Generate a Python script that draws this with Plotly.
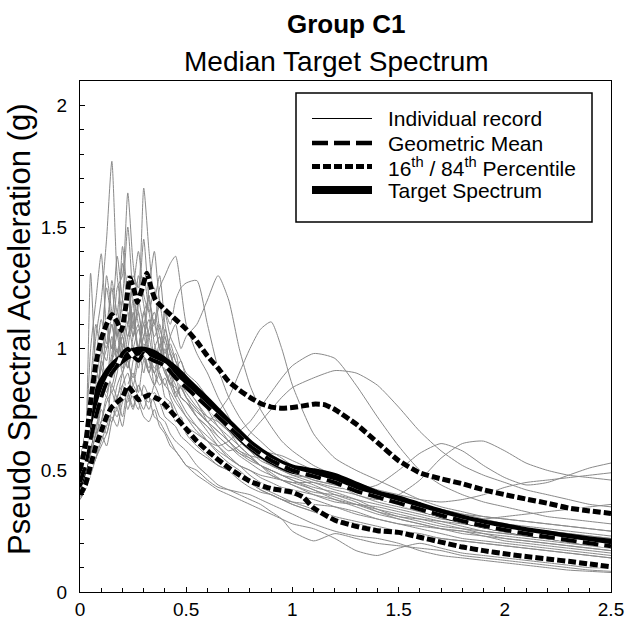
import plotly.graph_objects as go

# ---------------- data ----------------
periods = [0, .025, .05, .075, .1, .125, .15, .175, .2, .225, .25, .275, .3, .325, .35, .375, .4, .425, .45, .475, .5,
           .55, .6, .65, .7, .75, .8, .85, .9, .95, 1.0,
           1.1, 1.2, 1.3, 1.4, 1.5, 1.6, 1.7, 1.8, 1.9, 2.0, 2.1, 2.2, 2.3, 2.4, 2.5]

rec01 = [0.45, 0.55, 0.80, 1.05, 1.20, 1.45, 1.77, 1.30, 1.15, 1.25, 1.05, 1.10, 0.95, 1.00, 0.85, 0.90, 0.80, 0.78, 0.70, 0.72, 0.65,
         0.60, 0.56, 0.52, 0.50, 0.47, 0.45, 0.42, 0.40, 0.38, 0.36,
         0.33, 0.30, 0.28, 0.26, 0.24, 0.22, 0.20, 0.19, 0.17, 0.16, 0.15, 0.14, 0.13, 0.12, 0.11]
rec02 = [0.42, 0.50, 0.65, 0.90, 0.85, 1.10, 1.00, 1.25, 1.30, 1.64, 1.35, 1.20, 1.30, 1.15, 1.05, 1.10, 0.95, 0.90, 0.85, 0.80, 0.78,
         0.74, 0.70, 0.66, 0.62, 0.58, 0.55, 0.52, 0.48, 0.46, 0.45,
         0.42, 0.38, 0.35, 0.32, 0.30, 0.28, 0.26, 0.24, 0.23, 0.21, 0.20, 0.19, 0.18, 0.17, 0.16]
rec03 = [0.48, 0.58, 0.70, 0.85, 1.00, 0.95, 1.15, 1.05, 1.20, 1.10, 1.30, 1.25, 1.66, 1.40, 1.20, 1.30, 1.10, 1.00, 0.95, 0.90, 0.85,
         0.78, 0.72, 0.68, 0.62, 0.57, 0.55, 0.52, 0.50, 0.48, 0.47,
         0.44, 0.40, 0.37, 0.33, 0.30, 0.28, 0.26, 0.25, 0.24, 0.23, 0.22, 0.21, 0.20, 0.19, 0.18]
rec04 = [0.50, 0.62, 1.00, 1.20, 1.39, 1.10, 1.25, 1.05, 1.20, 1.50, 1.20, 1.00, 1.10, 0.95, 0.90, 0.85, 0.88, 0.80, 0.75, 0.70, 0.66,
         0.62, 0.58, 0.55, 0.50, 0.46, 0.43, 0.41, 0.40, 0.38, 0.36,
         0.33, 0.30, 0.28, 0.26, 0.25, 0.24, 0.22, 0.21, 0.20, 0.19, 0.18, 0.17, 0.16, 0.15, 0.14]
rec05 = [0.47, 0.60, 1.31, 0.95, 1.05, 1.00, 1.10, 0.95, 1.00, 1.15, 1.05, 1.20, 1.10, 1.25, 1.40, 1.20, 1.15, 1.05, 1.00, 0.95, 0.90,
         0.86, 0.80, 0.74, 0.68, 0.62, 0.58, 0.55, 0.52, 0.50, 0.48,
         0.45, 0.42, 0.40, 0.37, 0.35, 0.33, 0.31, 0.30, 0.29, 0.28, 0.27, 0.26, 0.25, 0.24, 0.23]
rec06 = [0.44, 0.50, 0.60, 0.70, 0.80, 0.85, 0.95, 1.00, 0.90, 1.05, 1.10, 1.00, 1.15, 1.20, 1.10, 1.25, 1.30, 1.35, 1.38, 1.25, 1.10,
         0.98, 0.90, 0.80, 0.72, 0.64, 0.58, 0.54, 0.52, 0.50, 0.49,
         0.46, 0.44, 0.42, 0.40, 0.37, 0.34, 0.31, 0.29, 0.27, 0.25, 0.23, 0.22, 0.21, 0.20, 0.19]
rec07 = [0.40, 0.45, 0.55, 0.65, 0.70, 0.80, 0.75, 0.85, 0.90, 0.80, 0.95, 1.00, 0.90, 1.05, 1.10, 1.00, 1.15, 1.10, 1.20, 1.25, 1.27,
         1.28, 1.10, 0.92, 0.80, 0.72, 0.66, 0.62, 0.58, 0.55, 0.52,
         0.48, 0.45, 0.43, 0.41, 0.38, 0.36, 0.34, 0.32, 0.31, 0.30, 0.29, 0.28, 0.27, 0.26, 0.25]
rec08 = [0.43, 0.48, 0.58, 0.62, 0.75, 0.70, 0.85, 0.80, 0.90, 0.95, 0.85, 0.95, 1.00, 0.90, 1.00, 1.05, 0.95, 1.05, 1.10, 1.00, 1.05,
         1.10, 1.20, 1.30, 1.20, 1.00, 0.85, 0.75, 0.68, 0.62, 0.58,
         0.52, 0.48, 0.45, 0.42, 0.40, 0.38, 0.37, 0.38, 0.40, 0.43, 0.45, 0.46, 0.47, 0.48, 0.49]
rec09 = [0.41, 0.46, 0.55, 0.60, 0.70, 0.65, 0.75, 0.80, 0.72, 0.85, 0.90, 0.82, 0.95, 0.90, 0.85, 0.95, 0.90, 0.85, 0.80, 0.85, 0.80,
         0.75, 0.70, 0.74, 0.80, 0.90, 1.00, 1.08, 1.11, 1.00, 0.85,
         0.65, 0.55, 0.50, 0.46, 0.42, 0.38, 0.35, 0.33, 0.31, 0.30, 0.29, 0.28, 0.27, 0.26, 0.25]
rec10 = [0.40, 0.44, 0.50, 0.55, 0.65, 0.60, 0.70, 0.75, 0.68, 0.80, 0.75, 0.85, 0.80, 0.78, 0.85, 0.80, 0.75, 0.78, 0.72, 0.70, 0.68,
         0.65, 0.62, 0.60, 0.62, 0.66, 0.70, 0.76, 0.82, 0.88, 0.93,
         0.98, 0.96, 0.85, 0.72, 0.60, 0.50, 0.44, 0.40, 0.37, 0.35, 0.33, 0.31, 0.30, 0.29, 0.28]
rec11 = [0.45, 0.52, 0.62, 0.75, 0.85, 0.80, 0.95, 1.05, 0.95, 1.10, 1.00, 0.92, 1.05, 0.95, 0.90, 1.00, 0.92, 0.85, 0.88, 0.80, 0.78,
         0.72, 0.68, 0.62, 0.58, 0.60, 0.65, 0.70, 0.75, 0.80, 0.84,
         0.88, 0.91, 0.90, 0.85, 0.76, 0.66, 0.58, 0.52, 0.48, 0.45, 0.42, 0.40, 0.38, 0.36, 0.35]
rec12 = [0.42, 0.48, 0.60, 0.68, 0.78, 0.90, 0.85, 0.95, 1.05, 0.95, 1.00, 1.08, 0.98, 0.92, 1.00, 0.90, 0.85, 0.82, 0.78, 0.75, 0.72,
         0.68, 0.64, 0.60, 0.56, 0.52, 0.50, 0.48, 0.47, 0.46, 0.45,
         0.45, 0.43, 0.42, 0.44, 0.50, 0.57, 0.61, 0.58, 0.52, 0.47, 0.44, 0.45, 0.48, 0.51, 0.53]
rec13 = [0.44, 0.52, 0.66, 0.78, 0.92, 1.00, 1.10, 0.98, 1.12, 1.05, 1.20, 1.10, 1.00, 1.08, 1.15, 1.05, 0.98, 1.02, 0.95, 0.90, 0.88,
         0.82, 0.76, 0.70, 0.66, 0.62, 0.60, 0.58, 0.57, 0.56, 0.54,
         0.50, 0.45, 0.40, 0.38, 0.40, 0.46, 0.55, 0.61, 0.62, 0.58, 0.53, 0.50, 0.48, 0.47, 0.46]
rec14 = [0.38, 0.42, 0.50, 0.55, 0.62, 0.68, 0.75, 0.72, 0.80, 0.78, 0.85, 0.80, 0.75, 0.82, 0.78, 0.72, 0.70, 0.65, 0.62, 0.60, 0.58,
         0.52, 0.48, 0.44, 0.42, 0.40, 0.38, 0.36, 0.33, 0.30, 0.25,
         0.21, 0.24, 0.22, 0.20, 0.19, 0.18, 0.17, 0.15, 0.14, 0.13, 0.12, 0.11, 0.10, 0.09, 0.085]
rec15 = [0.40, 0.45, 0.52, 0.60, 0.66, 0.72, 0.70, 0.80, 0.85, 0.75, 0.82, 0.78, 0.72, 0.70, 0.75, 0.68, 0.65, 0.60, 0.58, 0.55, 0.52,
         0.48, 0.45, 0.42, 0.40, 0.38, 0.36, 0.34, 0.32, 0.30, 0.28,
         0.26, 0.22, 0.17, 0.15, 0.18, 0.20, 0.18, 0.16, 0.15, 0.14, 0.13, 0.12, 0.11, 0.10, 0.10]
rec16 = [0.39, 0.44, 0.55, 0.65, 0.70, 0.78, 0.82, 0.75, 0.85, 0.90, 0.80, 0.75, 0.85, 0.80, 0.72, 0.70, 0.66, 0.62, 0.58, 0.55, 0.52,
         0.50, 0.46, 0.43, 0.42, 0.41, 0.40, 0.38, 0.36, 0.34, 0.32,
         0.28, 0.25, 0.23, 0.22, 0.20, 0.17, 0.15, 0.14, 0.13, 0.12, 0.11, 0.10, 0.09, 0.085, 0.08]
rec17 = [0.43, 0.50, 0.62, 0.72, 0.80, 0.92, 0.88, 0.98, 1.05, 0.92, 1.00, 0.95, 1.02, 0.98, 0.92, 0.96, 0.90, 0.86, 0.84, 0.80, 0.78,
         0.72, 0.68, 0.64, 0.60, 0.56, 0.53, 0.50, 0.48, 0.46, 0.44,
         0.40, 0.37, 0.36, 0.35, 0.33, 0.31, 0.29, 0.27, 0.25, 0.24, 0.23, 0.22, 0.21, 0.20, 0.19]
rec18 = [0.46, 0.55, 0.68, 0.80, 0.95, 1.10, 1.00, 1.15, 1.05, 1.20, 1.10, 1.30, 1.18, 1.05, 1.12, 1.00, 0.95, 0.98, 0.90, 0.86, 0.82,
         0.76, 0.72, 0.70, 0.66, 0.60, 0.56, 0.52, 0.50, 0.48, 0.46,
         0.43, 0.41, 0.38, 0.34, 0.31, 0.30, 0.29, 0.28, 0.27, 0.26, 0.25, 0.24, 0.23, 0.22, 0.21]
rec19 = [0.41, 0.47, 0.58, 0.70, 0.88, 0.82, 0.95, 1.10, 0.92, 1.00, 1.15, 0.98, 1.05, 1.12, 0.95, 0.92, 1.00, 0.88, 0.82, 0.84, 0.80,
         0.75, 0.70, 0.66, 0.62, 0.58, 0.56, 0.55, 0.54, 0.52, 0.50,
         0.46, 0.44, 0.42, 0.40, 0.38, 0.36, 0.34, 0.32, 0.30, 0.28, 0.26, 0.25, 0.24, 0.23, 0.22]
rec20 = [0.38, 0.42, 0.48, 0.55, 0.60, 0.65, 0.72, 0.68, 0.78, 0.82, 0.76, 0.85, 0.80, 0.75, 0.82, 0.78, 0.72, 0.70, 0.68, 0.64, 0.62,
         0.58, 0.55, 0.52, 0.50, 0.48, 0.45, 0.42, 0.40, 0.38, 0.37,
         0.36, 0.35, 0.33, 0.30, 0.28, 0.27, 0.26, 0.25, 0.23, 0.22, 0.21, 0.20, 0.19, 0.18, 0.17]
rec21 = [0.44, 0.53, 0.70, 0.95, 1.12, 1.02, 1.28, 1.15, 1.35, 1.18, 1.25, 1.40, 1.22, 1.15, 1.25, 1.08, 1.02, 0.95, 0.98, 0.88, 0.84,
         0.78, 0.70, 0.64, 0.60, 0.57, 0.54, 0.52, 0.50, 0.48, 0.46,
         0.42, 0.39, 0.36, 0.33, 0.31, 0.29, 0.27, 0.26, 0.25, 0.24, 0.23, 0.22, 0.21, 0.20, 0.19]
rec22 = [0.46, 0.56, 0.75, 0.88, 1.00, 1.25, 1.12, 1.38, 1.20, 1.10, 1.28, 1.15, 1.05, 1.22, 1.02, 0.96, 1.05, 0.92, 0.88, 0.84, 0.80,
         0.72, 0.66, 0.60, 0.55, 0.52, 0.50, 0.47, 0.45, 0.43, 0.42,
         0.40, 0.38, 0.36, 0.34, 0.32, 0.30, 0.28, 0.26, 0.24, 0.22, 0.21, 0.20, 0.19, 0.18, 0.17]
rec23 = [0.42, 0.50, 0.62, 0.80, 0.92, 0.85, 1.05, 0.95, 1.12, 1.30, 1.08, 1.18, 1.45, 1.20, 1.10, 1.18, 1.05, 0.98, 0.92, 0.95, 0.88,
         0.82, 0.75, 0.68, 0.64, 0.60, 0.56, 0.52, 0.49, 0.46, 0.44,
         0.41, 0.40, 0.38, 0.36, 0.34, 0.32, 0.30, 0.29, 0.28, 0.27, 0.26, 0.25, 0.24, 0.23, 0.22]
rec24 = [0.40, 0.48, 0.58, 0.72, 0.95, 0.88, 0.98, 1.12, 1.00, 0.92, 1.05, 1.15, 0.98, 0.90, 0.98, 0.88, 0.85, 0.90, 0.80, 0.76, 0.72,
         0.66, 0.62, 0.58, 0.55, 0.52, 0.48, 0.45, 0.43, 0.41, 0.40,
         0.38, 0.35, 0.32, 0.30, 0.28, 0.26, 0.24, 0.22, 0.21, 0.20, 0.19, 0.18, 0.17, 0.16, 0.15]
rec25 = [0.48, 0.60, 0.85, 1.10, 0.98, 1.30, 1.15, 1.05, 1.42, 1.22, 1.12, 1.00, 1.15, 1.05, 0.95, 1.02, 0.92, 0.86, 0.82, 0.78, 0.74,
         0.68, 0.62, 0.57, 0.53, 0.50, 0.46, 0.43, 0.41, 0.39, 0.37,
         0.34, 0.31, 0.29, 0.27, 0.25, 0.23, 0.22, 0.21, 0.20, 0.19, 0.18, 0.17, 0.16, 0.15, 0.14]
rec26 = [0.41, 0.47, 0.56, 0.66, 0.78, 0.92, 0.82, 0.90, 1.02, 0.95, 0.88, 1.00, 1.10, 1.00, 0.90, 0.95, 1.08, 0.98, 0.90, 0.86, 0.84,
         0.80, 0.76, 0.74, 0.70, 0.64, 0.60, 0.56, 0.52, 0.50, 0.48,
         0.47, 0.46, 0.44, 0.40, 0.36, 0.33, 0.31, 0.30, 0.30, 0.31, 0.32, 0.33, 0.34, 0.35, 0.36]
records = [rec01, rec02, rec03, rec04, rec05, rec06, rec07, rec08, rec09, rec10, rec11, rec12, rec13,
           rec14, rec15, rec16, rec17, rec18, rec19, rec20, rec21, rec22, rec23, rec24, rec25, rec26]

target_T = [0, 0.05, 0.1, 0.15, 0.2, 0.25, 0.3, 0.35, 0.4, 0.45, 0.5, 0.6, 0.7, 0.8, 0.9, 1.0,
            1.1, 1.2, 1.3, 1.4, 1.5, 1.6, 1.7, 1.8, 1.9, 2.0, 2.1, 2.2, 2.3, 2.4, 2.5]
target_Sa = [0.43, 0.68, 0.85, 0.92, 0.96, 0.985, 0.99, 0.975, 0.945, 0.91, 0.865, 0.78, 0.69, 0.605, 0.545, 0.505,
             0.49, 0.47, 0.435, 0.40, 0.378, 0.35, 0.323, 0.30, 0.28, 0.264, 0.248, 0.235, 0.222, 0.21, 0.20]

gm_T = [0, 0.025, 0.05, 0.075, 0.1, 0.125, 0.15, 0.175, 0.2, 0.225, 0.25, 0.275, 0.3, 0.325, 0.35, 0.4, 0.45, 0.5,
        0.6, 0.7, 0.8, 0.9, 1.0, 1.1, 1.2, 1.3, 1.4, 1.5, 1.6, 1.7, 1.8, 1.9, 2.0, 2.1, 2.2, 2.3, 2.4, 2.5]
gm_Sa = [0.45, 0.52, 0.63, 0.72, 0.80, 0.86, 0.90, 0.93, 0.98, 1.00, 0.97, 0.95, 0.98, 0.96, 0.95, 0.93, 0.88, 0.84,
         0.76, 0.68, 0.60, 0.54, 0.50, 0.475, 0.45, 0.415, 0.39, 0.365, 0.34, 0.315, 0.292, 0.272, 0.255, 0.24, 0.226, 0.213, 0.2, 0.188]

p84_T = [0, 0.025, 0.05, 0.075, 0.1, 0.125, 0.15, 0.175, 0.195, 0.215, 0.235, 0.255, 0.27, 0.29, 0.315, 0.335, 0.355,
         0.4, 0.45, 0.5, 0.55, 0.6, 0.65, 0.7, 0.75, 0.8, 0.85, 0.9, 0.95, 1.0, 1.05, 1.1, 1.15, 1.2,
         1.3, 1.4, 1.5, 1.6, 1.7, 1.8, 1.9, 2.0, 2.1, 2.2, 2.3, 2.4, 2.5]
p84_Sa = [0.50, 0.60, 0.78, 0.94, 1.04, 1.10, 1.14, 1.11, 1.075, 1.17, 1.29, 1.24, 1.19, 1.24, 1.31, 1.25, 1.20,
          1.16, 1.12, 1.08, 1.03, 0.97, 0.92, 0.865, 0.83, 0.80, 0.775, 0.76, 0.755, 0.758, 0.765, 0.772, 0.77, 0.75,
          0.69, 0.615, 0.54, 0.49, 0.465, 0.445, 0.42, 0.40, 0.382, 0.365, 0.345, 0.333, 0.323]

p16_T = [0, 0.025, 0.05, 0.075, 0.1, 0.125, 0.15, 0.175, 0.2, 0.225, 0.25, 0.275, 0.3, 0.325, 0.35, 0.375, 0.4, 0.45, 0.5,
         0.55, 0.6, 0.7, 0.8, 0.9, 1.0, 1.05, 1.1, 1.2, 1.3, 1.4, 1.5, 1.6, 1.7, 1.8, 1.9, 2.0, 2.1, 2.2, 2.3, 2.4, 2.5]
p16_Sa = [0.40, 0.44, 0.52, 0.60, 0.66, 0.72, 0.76, 0.78, 0.80, 0.845, 0.82, 0.79, 0.80, 0.81, 0.80, 0.79, 0.77, 0.72, 0.67,
          0.62, 0.58, 0.51, 0.455, 0.425, 0.41, 0.39, 0.345, 0.295, 0.27, 0.252, 0.245, 0.225, 0.205, 0.185, 0.17, 0.157,
          0.146, 0.136, 0.126, 0.115, 0.104]

x_ticks = [0, 0.5, 1, 1.5, 2, 2.5]
x_ticktext = ["0", "0.5", "1", "1.5", "2", "2.5"]
y_ticks = [0, 0.5, 1, 1.5, 2]
y_ticktext = ["0", "0.5", "1", "1.5", "2"]

legend_labels = ["Individual record", "Geometric Mean",
                 "16<sup>th</sup> / 84<sup>th</sup> Percentile", "Target Spectrum"]

# ---------------- figure ----------------
FONT = "Liberation Sans, Arial, Helvetica, sans-serif"
GRAY = "#8a8a8a"
W, H = 628, 621
L, R, T, B = 80, 611, 81, 592

fig = go.Figure()
for rec in records:
    fig.add_trace(go.Scatter(x=periods, y=rec, mode="lines",
                             line=dict(color=GRAY, width=1, shape="spline", smoothing=0.6),
                             hoverinfo="skip", showlegend=False))

fig.add_trace(go.Scatter(x=target_T, y=target_Sa, mode="lines",
                         line=dict(color="black", width=9, shape="spline", smoothing=0.6), showlegend=False))

for xs, ys, dash, w in [(gm_T, gm_Sa, "16px,6px", 4),
                        (p84_T, p84_Sa, "8px,3px", 5),
                        (p16_T, p16_Sa, "8px,3px", 5)]:
    fig.add_trace(go.Scatter(x=xs, y=ys, mode="lines",
                             line=dict(color="white", width=w, shape="spline", smoothing=0.5), showlegend=False))
    fig.add_trace(go.Scatter(x=xs, y=ys, mode="lines",
                             line=dict(color="black", width=w, dash=dash, shape="spline", smoothing=0.5),
                             showlegend=False))


def px_x(p):
    return (p - L) / (R - L)


def px_y(p):
    return (B - p) / (B - T)


shapes = []
annotations = []
# legend box
shapes.append(dict(type="rect", xref="paper", yref="paper",
                   x0=px_x(296), x1=px_x(592), y0=px_y(222), y1=px_y(93),
                   line=dict(color="black", width=1.5), fillcolor="white", layer="above"))
row_y = [118.5, 143, 166.5, 190]
styles = [dict(color="black", width=1), dict(color="black", width=4.5, dash="16px,6px"),
          dict(color="black", width=5, dash="8px,3px"), dict(color="black", width=8)]
for ry, st, lab in zip(row_y, styles, legend_labels):
    shapes.append(dict(type="line", xref="paper", yref="paper",
                       x0=px_x(312), x1=px_x(372), y0=px_y(ry), y1=px_y(ry), line=st, layer="above"))
    annotations.append(dict(text=lab, xref="paper", yref="paper", x=px_x(386), y=px_y(ry),
                            xanchor="left", yanchor="middle", showarrow=False,
                            font=dict(family=FONT, size=21, color="black")))

annotations.append(dict(text="<b>Group C1</b>", xref="paper", yref="paper", x=px_x(346), y=px_y(24),
                        xanchor="center", yanchor="middle", showarrow=False,
                        font=dict(family=FONT, size=26, color="black")))
annotations.append(dict(text="Median Target Spectrum", xref="paper", yref="paper", x=px_x(336), y=px_y(61),
                        xanchor="center", yanchor="middle", showarrow=False,
                        font=dict(family=FONT, size=28, color="black")))
annotations.append(dict(text="Pseudo Spectral Acceleration (g)", xref="paper", yref="paper",
                        x=px_x(19), y=px_y(330), textangle=-90,
                        xanchor="center", yanchor="middle", showarrow=False,
                        font=dict(family=FONT, size=31, color="black")))

axis_common = dict(showline=True, linecolor="black", linewidth=1, mirror=True, automargin=False,
                   showgrid=False, zeroline=False, ticks="inside", ticklen=5, tickcolor="black",
                   tickfont=dict(family=FONT, size=19, color="black"))

fig.update_layout(
    width=W, height=H,
    margin=dict(l=L, r=W - R, t=T, b=H - B, autoexpand=False),
    paper_bgcolor="white", plot_bgcolor="white",
    showlegend=False,
    font=dict(family=FONT, color="black"),
    shapes=shapes, annotations=annotations,
    xaxis=dict(range=[0, 2.5], tickvals=x_ticks, ticktext=x_ticktext,
               minor=dict(tick0=0, dtick=0.1, ticks="inside", ticklen=4, tickcolor="black", showgrid=False),
               ticklabelstandoff=0, **axis_common),
    yaxis=dict(range=[0, 2.1], tickvals=y_ticks, ticktext=y_ticktext,
               minor=dict(tick0=0, dtick=0.1, ticks="inside", ticklen=4, tickcolor="black", showgrid=False),
               ticklabelstandoff=8, **axis_common),
)

fig.write_html("out.html")
